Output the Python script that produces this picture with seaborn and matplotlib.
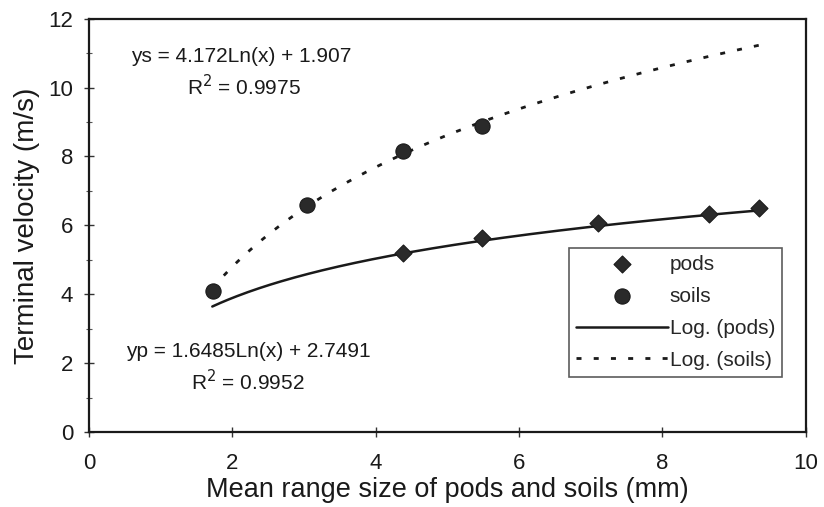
import numpy as np
import pandas as pd
import matplotlib
matplotlib.use("Agg")
import matplotlib.pyplot as plt
import seaborn as sns
from matplotlib.ticker import MultipleLocator

# Measured terminal velocities
pods_size = [4.38, 5.48, 7.10, 8.65, 9.35]
pods_velocity = [5.20, 5.62, 6.07, 6.33, 6.50]
soils_size = [1.73, 3.04, 4.38, 5.48]
soils_velocity = [4.10, 6.60, 8.15, 8.90]

# Logarithmic trend-line coefficients: y = a*Ln(x) + b
pods_fit = (1.6485, 2.7491, 0.9952)
soils_fit = (4.172, 1.907, 0.9975)
trend_range = (1.72, 9.35)

sns.set_theme(style="ticks")
plt.rcParams["font.family"] = ["Liberation Sans", "DejaVu Sans"]

fig = plt.figure(figsize=(8.24, 5.07), dpi=100)
ax = fig.add_axes([0.108, 0.148, 0.870, 0.815])

xs = np.linspace(trend_range[0], trend_range[1], 200)
trend = pd.DataFrame({
    "x": xs,
    "pods": pods_fit[0] * np.log(xs) + pods_fit[1],
    "soils": soils_fit[0] * np.log(xs) + soils_fit[1],
})

sns.lineplot(data=trend, x="x", y="soils", ax=ax, color="#1a1a1a",
             linewidth=2.0, linestyle=(0, (1.8, 4.4)), label="Log. (soils)", zorder=2)
sns.lineplot(data=trend, x="x", y="pods", ax=ax, color="#1a1a1a",
             linewidth=1.8, label="Log. (pods)", zorder=2)
sns.scatterplot(x=pods_size, y=pods_velocity, ax=ax, marker="D", s=75,
                color="#2a2a2a", edgecolor="#1a1a1a", linewidth=0.8,
                label="pods", zorder=3)
sns.scatterplot(x=soils_size, y=soils_velocity, ax=ax, marker="o", s=120,
                color="#2a2a2a", edgecolor="#1a1a1a", linewidth=0.8,
                label="soils", zorder=3)

ax.set_xlim(0, 10)
ax.set_ylim(0, 12)
ax.xaxis.set_major_locator(MultipleLocator(2))
ax.yaxis.set_major_locator(MultipleLocator(2))
ax.yaxis.set_minor_locator(MultipleLocator(1))
ax.tick_params(axis="both", which="major", direction="inout", length=7,
               width=1.0, color="#333333", labelsize=16, labelcolor="#1a1a1a")
ax.tick_params(axis="x", which="major", pad=12)
ax.tick_params(axis="y", which="major", pad=8)
ax.tick_params(axis="y", which="minor", direction="inout", length=4,
               width=0.8, color="#555555")
for side in ["top", "right", "left", "bottom"]:
    ax.spines[side].set_visible(True)
    ax.spines[side].set_color("#1a1a1a")
    ax.spines[side].set_linewidth(1.6)

ax.set_xlabel("Mean range size of pods and soils (mm)", fontsize=19.5,
              color="#1a1a1a", labelpad=2)
ax.set_ylabel("Terminal velocity (m/s)", fontsize=20, color="#1a1a1a", labelpad=6)

ax.text(2.12, 10.9, f"ys = {soils_fit[0]:.3f}Ln(x) + {soils_fit[1]:.3f}",
        ha="center", va="center", fontsize=15, color="#1a1a1a")
ax.text(2.16, 10.03, f"R$^2$ = {soils_fit[2]:.4f}",
        ha="center", va="center", fontsize=15, color="#1a1a1a")
ax.text(2.22, 2.33, f"yp = {pods_fit[0]:.4f}Ln(x) + {pods_fit[1]:.4f}",
        ha="center", va="center", fontsize=15, color="#1a1a1a")
ax.text(2.22, 1.45, f"R$^2$ = {pods_fit[2]:.4f}",
        ha="center", va="center", fontsize=15, color="#1a1a1a")

handles, labels = ax.get_legend_handles_labels()
order = [labels.index(k) for k in ["pods", "soils", "Log. (pods)", "Log. (soils)"]]
leg = ax.legend([handles[i] for i in order], [labels[i] for i in order],
                loc="lower left", bbox_to_anchor=(0.669, 0.133, 0.298, 0.325),
                mode="expand", fontsize=15, frameon=True, fancybox=False,
                edgecolor="#333333", handlelength=4.4, handletextpad=0.1,
                borderpad=0.35, labelspacing=0.62, borderaxespad=0)
leg.get_frame().set_linewidth(1.2)

fig.savefig("out.png", dpi=100)
